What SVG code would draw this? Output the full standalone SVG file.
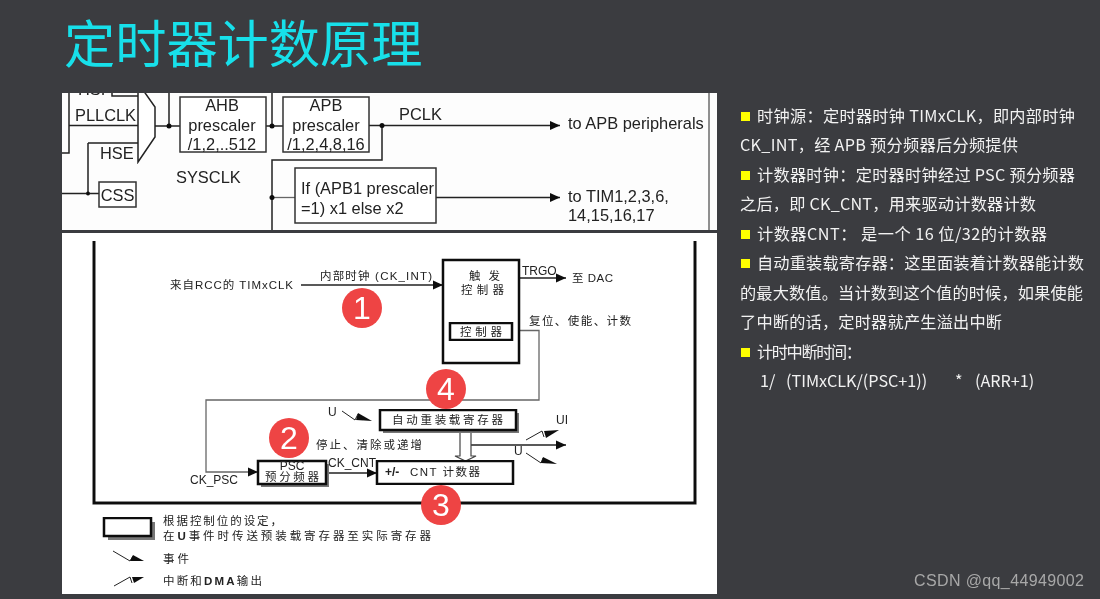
<svg xmlns="http://www.w3.org/2000/svg" width="1100" height="599" viewBox="0 0 1100 599">
<style>
.s{font-family:"Liberation Sans",Arial,sans-serif;fill:#222}
.a{font-size:16.4px}
.c{font-family:"Liberation Sans","Noto Sans CJK SC",sans-serif;font-size:11.5px;fill:#222}
.e{font-family:"Liberation Sans",sans-serif;font-size:12px;fill:#222}
.b{fill:#fff;stroke:#333;stroke-width:1.5}
.k{fill:#fff;stroke:#111;stroke-width:2.5}
.l{fill:none;stroke:#222;stroke-width:1.5}
.h{fill:none;stroke:#222;stroke-width:1}
.f{fill:#111}
.g{fill:none;stroke:#666;stroke-width:1.3}
.t{fill:none;stroke:#111;stroke-width:3}
.sh{fill:#777}
.o{fill:#ee4444}
.n{font-family:"Liberation Sans",sans-serif;font-size:32px;fill:#fff;text-anchor:middle}
.r{font-family:"Noto Sans CJK SC",sans-serif;font-size:16.2px;fill:#f2f2f2}
.y{fill:#ffff00}
.mid{text-anchor:middle}
</style>
<defs>
<marker id="ar" markerUnits="userSpaceOnUse" markerWidth="11" markerHeight="10" refX="10" refY="5" orient="auto"><path d="M0 0.5L10 5L0 9.5Z" fill="#111"/></marker>
<clipPath id="top"><rect x="62" y="93" width="655" height="137"/></clipPath>
<filter id="bl" x="-2%" y="-2%" width="104%" height="104%"><feGaussianBlur stdDeviation="0.35"/></filter>
</defs>
<rect id="background" width="1100" height="599" fill="#3b3c40"/>
<text id="title" x="64" y="63" font-family="'Noto Sans CJK SC',sans-serif" font-size="51.2px" fill="#17e0ea">定时器计数原理</text>

<rect id="top-image" x="62" y="93" width="655" height="137" fill="#fdfdfd"/>
<rect id="bottom-image" x="62" y="233" width="655" height="361" fill="#fff"/>

<g id="connectors" filter="url(#bl)">
<g clip-path="url(#top)">
<path class="l" d="M112 93V96H138M69 93V153H62M69 125.500H138M88 143H138M88 143V193.500M62 193.500H99M155 126H180M169 93V126M266 126H283M272 93V126M369 125.500H382M382 125.500V160H272V230"/>
<path class="l" d="M382 125.500H560" marker-end="url(#ar)"/>
<path class="g" d="M272 197.500H295"/>
<path class="l" d="M436 197.500H560" marker-end="url(#ar)"/>
<path class="h" d="M709 93V230"/>
<circle cx="88" cy="193.500" r="2" fill="#111"/><circle cx="169" cy="126" r="2.500" fill="#111"/><circle cx="272" cy="126" r="2.500" fill="#111"/><circle cx="382" cy="125.500" r="2.500" fill="#111"/><circle cx="272" cy="197.500" r="2.500" fill="#111"/>
</g>
<path class="t" d="M94 241V503H695V241"/>
<path class="l" d="M301 285H443" marker-end="url(#ar)"/>
<path class="l" d="M519 278H566" marker-end="url(#ar)"/>
<path class="g" d="M519 330.500H539V400H206V472H258" marker-end="url(#ar)"/>
<path class="l" d="M326 473H377" marker-end="url(#ar)"/>
<path class="l" d="M471 445H566" marker-end="url(#ar)"/>
<path d="M460 430V456H455L465.500 461L476 456H471V430" fill="#fff" stroke="#444" stroke-width="1.200"/>
<path class="h" d="M342 411L355 420L358 414"/><path class="f" d="M358 413L372 421L356 420Z"/>
<path class="h" d="M526 440L542 431L544 437"/><path class="f" d="M544 431L559 430L546 438Z"/>
<path class="h" d="M526 453L541 463L543 458"/><path class="f" d="M543 457L557 464L541 463Z"/>
<path class="h" d="M113 551L130 561L133 556"/><path class="f" d="M133 555L144 561L130 561Z"/>
<path class="h" d="M114 586L130 577L132 583"/><path class="f" d="M132 577L144 577L134 583Z"/>
</g>

<g id="top-labels" filter="url(#bl)" clip-path="url(#top)">
<text class="s a" x="78" y="95">HSI</text>
<text class="s a" x="75" y="121">PLLCLK</text>
<text class="s a" x="100" y="159">HSE</text>
<text class="s a" x="176" y="183">SYSCLK</text>
<text class="s a" x="399" y="120">PCLK</text>
<text class="s a" x="568" y="129">to APB peripherals</text>
<text class="s a" x="568" y="202">to TIM1,2,3,6,</text>
<text class="s a" x="568" y="221">14,15,16,17</text>
</g>
<g id="mux" filter="url(#bl)" clip-path="url(#top)"><path d="M138 90H143L155 107V137L138 162Z" fill="#fff" stroke="#222" stroke-width="1.500"/></g>
<g id="css" filter="url(#bl)"><rect class="b" x="99" y="182" width="37" height="25"/><text class="s a mid" x="117.500" y="200.500">CSS</text></g>
<g id="ahb" filter="url(#bl)"><rect class="b" x="180" y="97" width="86" height="55"/><text class="s a mid" x="222" y="111">AHB</text><text class="s a mid" x="222" y="131">prescaler</text><text class="s a mid" x="222" y="150">/1,2,..512</text></g>
<g id="apb" filter="url(#bl)"><rect class="b" x="283" y="97" width="86" height="55"/><text class="s a mid" x="326" y="111">APB</text><text class="s a mid" x="326" y="131">prescaler</text><text class="s a mid" x="326" y="150">/1,2,4,8,16</text></g>
<g id="apb1" filter="url(#bl)"><rect class="b" x="295" y="168" width="141" height="55"/><text class="s a" x="301" y="194">If (APB1 prescaler</text><text class="s a" x="301" y="214">=1) x1 else x2</text></g>

<g id="timer-labels" filter="url(#bl)">
<text class="c" x="170" y="289" textLength="123">来自RCC的 TIMxCLK</text>
<text class="c" x="320" y="280" textLength="112">内部时钟 (CK_INT)</text>
<text class="e" x="522" y="275">TRGO</text>
<text class="c" x="572" y="282" textLength="41">至 DAC</text>
<text class="c" x="529" y="325" textLength="102">复位、使能、计数</text>
<text class="e" x="328" y="416">U</text>
<text class="c" x="316" y="449" textLength="106">停止、清除或递增</text>
<text class="e" x="190" y="484">CK_PSC</text>
<text class="e" x="328" y="467">CK_CNT</text>
<text class="e" x="556" y="424">UI</text>
<text class="e" x="514" y="455">U</text>
<text class="c" x="163" y="525" textLength="119">根据控制位的设定，</text>
<text class="c" x="163" y="540" textLength="268">在<tspan font-weight="bold">U</tspan>事件时传送预装载寄存器至实际寄存器</text>
<text class="c" x="163" y="563" textLength="26">事件</text>
<text class="c" x="163" y="585" textLength="99">中断和<tspan font-weight="bold">DMA</tspan>输出</text>
</g>

<g id="trigger" filter="url(#bl)"><rect class="k" x="443" y="260" width="76" height="103"/><text class="c" x="469" y="280" textLength="31">触 发</text><text class="c" x="461" y="294" textLength="43">控制器</text></g>
<g id="controller" filter="url(#bl)"><rect class="k" x="450" y="323" width="62" height="17"/><text class="c" x="460" y="336" textLength="42">控制器</text></g>
<g id="arr" filter="url(#bl)"><rect class="sh" x="383" y="413" width="136" height="20"/><rect class="k" x="380" y="410" width="136" height="20"/><text class="c" x="392" y="424" textLength="111">自动重装载寄存器</text></g>
<g id="psc" filter="url(#bl)"><rect class="sh" x="261" y="464" width="68" height="23"/><rect class="k" x="258" y="461" width="68" height="23"/><text class="e mid" x="292" y="470">PSC</text><text class="c" x="265" y="481" textLength="54">预分频器</text></g>
<g id="cnt" filter="url(#bl)"><rect class="k" x="377" y="461" width="136" height="23"/><text class="e" x="385" y="476" font-weight="bold">+/-</text><text class="c" x="410" y="476" textLength="70">CNT 计数器</text></g>
<g id="legend-box" filter="url(#bl)"><rect class="sh" x="108" y="522" width="47" height="18"/><rect class="k" x="104" y="518" width="47" height="18"/></g>

<g id="badge-1"><circle class="o" cx="362" cy="308" r="20"/><text class="n" x="362" y="319">1</text></g>
<g id="badge-2"><circle class="o" cx="289" cy="438" r="20"/><text class="n" x="289" y="449">2</text></g>
<g id="badge-3"><circle class="o" cx="441" cy="505" r="20"/><text class="n" x="441" y="516">3</text></g>
<g id="badge-4"><circle class="o" cx="446" cy="389" r="20"/><text class="n" x="446" y="400">4</text></g>

<g id="notes">
<rect class="y" x="741" y="112" width="9" height="9"/><rect class="y" x="741" y="171" width="9" height="9"/><rect class="y" x="741" y="230" width="9" height="9"/><rect class="y" x="741" y="259" width="9" height="9"/><rect class="y" x="741" y="348" width="9" height="9"/>
<text class="r" x="757" y="122" textLength="318">时钟源：定时器时钟 TIMxCLK，即内部时钟</text>
<text class="r" x="740" y="151" textLength="278">CK_INT，经 APB 预分频器后分频提供</text>
<text class="r" x="757" y="181" textLength="318">计数器时钟：定时器时钟经过 PSC 预分频器</text>
<text class="r" x="740" y="210" textLength="296">之后，即 CK_CNT，用来驱动计数器计数</text>
<text class="r" x="757" y="240" textLength="290">计数器CNT： 是一个 16 位/32的计数器</text>
<text class="r" x="757" y="269" textLength="327">自动重装载寄存器：这里面装着计数器能计数</text>
<text class="r" x="740" y="299" textLength="343">的最大数值。当计数到这个值的时候，如果使能</text>
<text class="r" x="740" y="328" textLength="262">了中断的话，定时器就产生溢出中断</text>
<text class="r" x="757" y="358" textLength="105">计时中断时间：</text>
<text class="r" y="387"><tspan x="760">1/</tspan><tspan x="786">(TIMxCLK/(PSC+1))</tspan><tspan x="955">*</tspan><tspan x="975">(ARR+1)</tspan></text>
</g>
<text id="watermark" x="914" y="586" font-family="'Liberation Sans',sans-serif" font-size="16px" fill="#a8a8a8" textLength="170">CSDN @qq_44949002</text>
</svg>
